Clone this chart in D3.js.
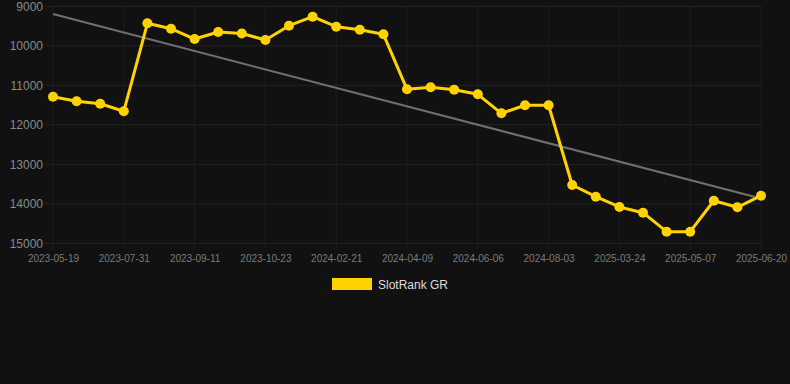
<!DOCTYPE html>
<html>
<head>
<meta charset="utf-8">
<script src="https://cdn.jsdelivr.net/npm/d3@7"></script>
<style>
  html, body { margin: 0; padding: 0; background: #111111; }
  svg { display: block; }
</style>
</head>
<body>
<svg id="chart" width="790" height="384"></svg>
<script>
// Data
const categories = [
  "2023-05-19", "2023-06-12", "2023-07-06", "2023-07-31", "2023-08-14", "2023-08-28",
  "2023-09-11", "2023-09-25", "2023-10-09", "2023-10-23", "2023-12-01", "2024-01-10",
  "2024-02-21", "2024-03-06", "2024-03-22", "2024-04-09", "2024-04-28", "2024-05-17",
  "2024-06-06", "2024-06-25", "2024-07-14", "2024-08-03", "2024-11-15", "2025-02-10",
  "2025-03-24", "2025-04-09", "2025-04-23", "2025-05-07", "2025-05-21", "2025-06-05",
  "2025-06-20"
];
const rankValues = [
  11290, 11405, 11466, 11658, 9430, 9567,
  9828, 9651, 9689, 9853, 9491, 9263,
  9516, 9592, 9709, 11101, 11051, 11111,
  11228, 11709, 11506, 11506, 13524, 13820,
  14081, 14225, 14706, 14706, 13922, 14089,
  13795
];
const yTicks = [9000, 10000, 11000, 12000, 13000, 14000, 15000];
const xTickLabels = [
  "2023-05-19", "2023-07-31", "2023-09-11", "2023-10-23", "2024-02-21", "2024-04-09",
  "2024-06-06", "2024-08-03", "2025-03-24", "2025-05-07", "2025-06-20"
];
const seriesName = "SlotRank GR";

const svg = d3.select("#chart");
const plotLeft = 53, plotRight = 761, plotTop = 6.3, plotBottom = 243.3;

const x = d3.scalePoint().domain(categories).range([plotLeft, plotRight]);
const y = d3.scaleLinear().domain([9000, 15000]).range([plotTop, plotBottom]);

// grid
const grid = svg.append("g");
grid.selectAll("line.h").data(yTicks).enter().append("line")
  .attr("x1", plotLeft - 8).attr("x2", plotRight)
  .attr("y1", d => y(d)).attr("y2", d => y(d))
  .attr("stroke", "#242424").attr("stroke-width", 1);
grid.selectAll("line.v").data(xTickLabels).enter().append("line")
  .attr("x1", d => x(d)).attr("x2", d => x(d))
  .attr("y1", plotTop).attr("y2", plotBottom + 6)
  .attr("stroke", "#1d1d1d").attr("stroke-width", 1);

// y axis
const yAxis = d3.axisLeft(y).tickValues(yTicks).tickSize(0).tickPadding(0).tickFormat(d3.format("d"));
const gy = svg.append("g").attr("transform", `translate(${plotLeft - 10},0)`).call(yAxis);
gy.select(".domain").remove();
gy.selectAll("text").attr("fill", "#8a8a8a").style("font-family", "Liberation Sans, Arial, sans-serif").style("font-size", "12px");

// x axis
const xAxis = d3.axisBottom(x).tickValues(xTickLabels).tickSize(0).tickPadding(0);
const gx = svg.append("g").attr("transform", `translate(0,${plotBottom + 12})`).call(xAxis);
gx.select(".domain").remove();
gx.selectAll("text").attr("fill", "#7a7a7a").style("font-family", "Liberation Sans, Arial, sans-serif").style("font-size", "10px");

// trend line (least squares over index)
const n = rankValues.length;
const idx = d3.range(n);
const mx = d3.mean(idx), my = d3.mean(rankValues);
const slope = d3.sum(idx, i => (i - mx) * (rankValues[i] - my)) / d3.sum(idx, i => (i - mx) ** 2);
const intercept = my - slope * mx;
svg.append("line")
  .attr("x1", x(categories[0])).attr("y1", y(intercept))
  .attr("x2", x(categories[n - 1])).attr("y2", y(intercept + slope * (n - 1)))
  .attr("stroke", "#707070").attr("stroke-width", 2);

// series line
const line = d3.line().x((d, i) => x(categories[i])).y(d => y(d));
svg.append("path").datum(rankValues)
  .attr("d", line).attr("fill", "none")
  .attr("stroke", "#FFD200").attr("stroke-width", 3).attr("stroke-linejoin", "round");

svg.append("g").selectAll("circle").data(rankValues).enter().append("circle")
  .attr("cx", (d, i) => x(categories[i])).attr("cy", d => y(d)).attr("r", 5)
  .attr("fill", "#FFD200");

// legend
const lg = svg.append("g");
lg.append("rect").attr("x", 332).attr("y", 278).attr("width", 40).attr("height", 12).attr("fill", "#FFD200");
lg.append("text").attr("x", 378).attr("y", 288.5).text(seriesName)
  .attr("fill", "#dddddd").style("font-family", "Liberation Sans, Arial, sans-serif").style("font-size", "12px");
</script>
</body>
</html>
